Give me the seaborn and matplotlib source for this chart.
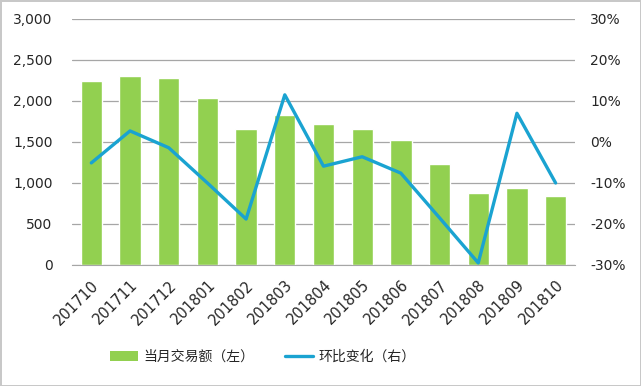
import numpy as np
import pandas as pd
import seaborn as sns
import matplotlib.pyplot as plt
from matplotlib.patches import Patch
from matplotlib.lines import Line2D
from matplotlib.ticker import FuncFormatter

months = ['201710', '201711', '201712', '201801', '201802', '201803', '201804',
          '201805', '201806', '201807', '201808', '201809', '201810']
volume = [2245, 2305, 2280, 2035, 1660, 1830, 1720, 1660, 1525, 1235, 875, 940, 840]
mom_change = [-5.1, 2.7, -1.4, -10.0, -18.8, 11.5, -5.9, -3.6, -7.6, -18.5, -29.5, 7.0, -10.0]

left_ticks = [0, 500, 1000, 1500, 2000, 2500, 3000]
right_ticks = [-30, -20, -10, 0, 10, 20, 30]

bar_color = '#92D050'
line_color = '#1AA3D1'
text_color = '#262626'

df = pd.DataFrame({'month': months, 'volume': volume, 'change': mom_change})
df['pos'] = np.arange(len(df))

sns.set_style('white')
plt.rcParams['font.family'] = ['DejaVu Sans', 'Noto Sans CJK SC']

fig = plt.figure(figsize=(6.41, 3.86), dpi=100)
fig.patch.set_edgecolor('#C8C8C8')
fig.patch.set_linewidth(2)
ax = fig.add_axes([0.1123, 0.3135, 0.7847, 0.6373])

# bars on the left axis
sns.barplot(data=df, x='month', y='volume', color=bar_color, width=0.55,
            saturation=1, ax=ax, zorder=2)
ax.set_ylim(0, 3000)
ax.set_yticks(left_ticks)
ax.yaxis.set_major_formatter(FuncFormatter(lambda v, p: f'{v:,.0f}'))
ax.grid(axis='y', color='#A6A6A6', linewidth=0.9, zorder=0)
ax.set_axisbelow(True)
ax.set_xlim(-0.5, len(months) - 0.5)
ax.set_xlabel('')
ax.set_ylabel('')
for s in ['top', 'left', 'right']:
    ax.spines[s].set_visible(False)
ax.spines['bottom'].set_color('#A6A6A6')
ax.tick_params(axis='both', length=0, colors=text_color, labelsize=10)
ax.tick_params(axis='y', pad=14)
ax.tick_params(axis='x', labelsize=10.5, pad=9)
plt.setp(ax.get_xticklabels(), rotation=45, ha='right', rotation_mode='anchor')

# month-on-month change on the right axis
ax2 = ax.twinx()
sns.lineplot(data=df, x='pos', y='change', color=line_color, linewidth=2.4, ax=ax2)
ax2.set_ylim(-30, 30)
ax2.set_yticks(right_ticks)
ax2.yaxis.set_major_formatter(FuncFormatter(lambda v, p: f'{v:.0f}%'))
ax2.set_xlim(-0.5, len(months) - 0.5)
ax2.set_xlabel('')
ax2.set_ylabel('')
for s in ['top', 'left', 'right', 'bottom']:
    ax2.spines[s].set_visible(False)
ax2.tick_params(axis='y', length=0, colors=text_color, labelsize=10, pad=11)

handles = [Patch(facecolor=bar_color, edgecolor='none'),
           Line2D([0], [0], color=line_color, linewidth=2.4)]
fig.legend(handles, ['当月交易额（左）', '环比变化（右）'], loc='center',
           bbox_to_anchor=(0.41, 0.075), ncol=2, frameon=False,
           prop={'family': ['Noto Sans CJK SC', 'DejaVu Sans'], 'size': 10},
           handlelength=2.0, handletextpad=0.4, columnspacing=2.2,
           labelcolor=text_color)

fig.savefig('out.png', dpi=100)
